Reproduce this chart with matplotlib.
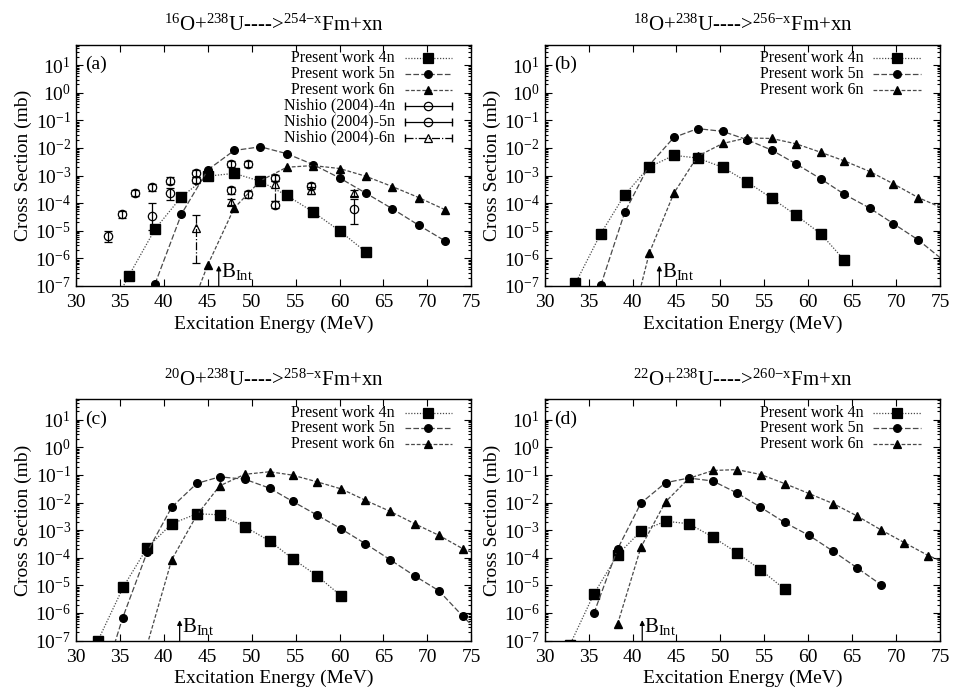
import matplotlib
matplotlib.use('Agg')
import matplotlib.pyplot as plt
from matplotlib.ticker import LogLocator, LogFormatterMathtext, MultipleLocator, NullFormatter

plt.rcParams['font.family'] = ['Liberation Serif', 'DejaVu Serif']
plt.rcParams['mathtext.fontset'] = 'custom'
plt.rcParams['mathtext.rm'] = 'Liberation Serif'
plt.rcParams['mathtext.it'] = 'Liberation Serif:italic'
plt.rcParams['mathtext.bf'] = 'Liberation Serif:bold'

# ---- panel (a): 16O + 238U ----
a_4n_E = [33, 36, 39, 42, 45, 48, 51, 54, 57, 60, 63]
a_4n_s = [3.6e-9, 2.3e-7, 1.15e-5, 1.7e-4, 9.5e-4, 1.2e-3, 6.2e-4, 1.9e-4, 4.8e-5, 1.0e-5, 1.7e-6]
a_5n_E = [39, 42, 45, 48, 51, 54, 57, 60, 63, 66, 69, 72]
a_5n_s = [1.2e-7, 4.0e-5, 1.6e-3, 8.1e-3, 1.1e-2, 6.2e-3, 2.5e-3, 8.2e-4, 2.3e-4, 6.3e-5, 1.6e-5, 4.3e-6]
a_6n_E = [42, 45, 48, 51, 54, 57, 60, 63, 66, 69, 72]
a_6n_s = [2e-9, 5.8e-7, 6.6e-5, 6.5e-4, 2.0e-3, 2.3e-3, 1.8e-3, 9.4e-4, 4.0e-4, 1.6e-4, 5.8e-5]

nishio4n_E = [33.6, 35.2, 36.7, 38.7, 40.7, 43.7, 47.6, 49.6, 52.6]
nishio4n_s = [6.6e-6, 4.0e-5, 2.3e-4, 3.7e-4, 6.5e-4, 1.2e-3, 2.9e-4, 2.1e-4, 8.7e-5]
nishio4n_lo = [3.9e-6, 3.0e-5, 1.75e-4, 2.8e-4, 5.0e-4, 9.0e-4, 2.2e-4, 1.6e-4, 6.5e-5]
nishio4n_hi = [1.0e-5, 5.3e-5, 3.0e-4, 4.8e-4, 8.5e-4, 1.55e-3, 3.8e-4, 2.8e-4, 1.15e-4]

nishio5n_E = [38.7, 40.65, 43.7, 47.6, 49.6, 52.6, 56.7, 61.7]
nishio5n_s = [3.5e-5, 2.3e-4, 7.0e-4, 2.6e-3, 2.7e-3, 8.1e-4, 4.3e-4, 6.3e-5]
nishio5n_lo = [1.1e-5, 1.3e-4, 5.3e-4, 2.0e-3, 2.1e-3, 6.2e-4, 3.3e-4, 1.8e-5]
nishio5n_hi = [1.0e-4, 3.5e-4, 9.2e-4, 3.4e-3, 3.5e-3, 1.05e-3, 5.6e-4, 1.4e-4]

nishio6n_E = [43.7, 47.6, 52.6, 56.7, 61.7]
nishio6n_s = [1.26e-5, 1.1e-4, 5.0e-4, 2.9e-4, 2.3e-4]
nishio6n_lo = [6.6e-7, 8.3e-5, 1.2e-4, 2.2e-4, 1.75e-4]
nishio6n_hi = [3.8e-5, 1.45e-4, 6.5e-4, 3.8e-4, 3.0e-4]

# ---- panel (b): 18O + 238U ----
b_4n_E = [33.5, 36.35, 39.1, 41.85, 44.7, 47.4, 50.25, 53.0, 55.85, 58.65, 61.45, 64.1]
b_4n_s = [1.25e-7, 7.6e-6, 2.0e-4, 2.0e-3, 5.4e-3, 4.3e-3, 2.0e-3, 6.0e-4, 1.5e-4, 3.6e-5, 7.6e-6, 8.7e-7]
b_5n_E = [36.4, 39.1, 41.85, 44.7, 47.4, 50.25, 53.0, 55.85, 58.65, 61.45, 64.1, 67.0, 69.7, 72.5, 75.3]
b_5n_s = [1.1e-7, 4.6e-5, 2.3e-3, 2.4e-2, 5.0e-2, 4.0e-2, 2.0e-2, 8.3e-3, 2.6e-3, 7.5e-4, 2.1e-4,
          6.6e-5, 1.8e-5, 4.7e-6, 8.9e-7]
b_6n_E = [39.1, 41.9, 44.7, 47.4, 50.25, 53.0, 55.85, 58.65, 61.45, 64.1, 67.0, 69.7, 72.5, 75.3]
b_6n_s = [4.4e-10, 1.55e-6, 2.3e-4, 5.0e-3, 1.45e-2, 2.3e-2, 2.2e-2, 1.4e-2, 6.9e-3, 3.4e-3, 1.4e-3,
          5.0e-4, 1.6e-4, 6.6e-5]

# ---- panel (c): 20O + 238U ----
c_4n_E = [32.5, 35.4, 38.1, 40.9, 43.75, 46.35, 49.2, 52.05, 54.65, 57.45, 60.2]
c_4n_s = [1.0e-7, 8.9e-6, 2.3e-4, 1.7e-3, 3.9e-3, 3.6e-3, 1.35e-3, 4.0e-4, 9.3e-5, 2.2e-5, 4.1e-6]
c_5n_E = [32.5, 35.3, 38.1, 40.9, 43.75, 46.35, 49.2, 52.05, 54.65, 57.45, 60.2, 62.95, 65.75,
          68.55, 71.3, 74.05, 76.8]
c_5n_s = [9e-10, 6.5e-7, 1.6e-4, 6.8e-3, 4.9e-2, 8.5e-2, 7.0e-2, 3.3e-2, 1.1e-2, 3.5e-3, 1.1e-3,
          3.2e-4, 8.5e-5, 2.2e-5, 6.4e-6, 7.5e-7, 1.0e-7]
c_6n_E = [38.1, 40.9, 43.75, 46.35, 49.2, 52.05, 54.65, 57.45, 60.2, 62.95, 65.75, 68.55, 71.3,
          74.05, 76.8]
c_6n_s = [7e-8, 8.5e-5, 3.5e-3, 4.0e-2, 1.05e-1, 1.3e-1, 9.8e-2, 5.6e-2, 3.1e-2, 1.2e-2, 4.8e-3,
          1.7e-3, 6.5e-4, 2.1e-4, 9.5e-5]

# ---- panel (d): 22O + 238U ----
d_4n_E = [32.85, 35.6, 38.3, 40.95, 43.75, 46.4, 49.15, 51.9, 54.55, 57.35]
d_4n_s = [6.8e-8, 4.9e-6, 1.3e-4, 9.1e-4, 2.1e-3, 1.7e-3, 5.6e-4, 1.5e-4, 3.7e-5, 7.1e-6]
d_5n_E = [35.6, 38.3, 40.95, 43.75, 46.4, 49.15, 51.9, 54.55, 57.3, 60.1, 62.85, 65.6, 68.25]
d_5n_s = [9.8e-7, 2.1e-4, 9.5e-3, 5.2e-2, 7.7e-2, 6.0e-2, 2.2e-2, 6.8e-3, 1.9e-3, 6.4e-4, 1.7e-4,
          4.2e-5, 1.07e-5]
d_6n_E = [38.3, 40.95, 43.75, 46.4, 49.2, 51.9, 54.6, 57.35, 60.1, 62.85, 65.6, 68.25, 70.95,
          73.65, 76.4]
d_6n_s = [4.0e-7, 2.4e-4, 1.05e-2, 7.5e-2, 1.45e-1, 1.55e-1, 1.03e-1, 4.8e-2, 2.1e-2, 9.1e-3,
          3.2e-3, 1.03e-3, 3.5e-4, 1.2e-4, 5.2e-5]

titles = [r'$^{16}$O+$^{238}$U---->$^{254\mathrm{-x}}$Fm+xn',
          r'$^{18}$O+$^{238}$U---->$^{256\mathrm{-x}}$Fm+xn',
          r'$^{20}$O+$^{238}$U---->$^{258\mathrm{-x}}$Fm+xn',
          r'$^{22}$O+$^{238}$U---->$^{260\mathrm{-x}}$Fm+xn']
tags = ['(a)', '(b)', '(c)', '(d)']
b_int = [46.25, 43.05, 41.8, 41.1]

LINE_C = '#4a4a4a'
styles = {
    '4n': dict(marker='s', ms=7.5, ls=(0, (1, 1.3))),
    '5n': dict(marker='o', ms=5.5, ls=(0, (4.5, 1.8))),
    '6n': dict(marker='^', ms=5.5, ls=(0, (3, 1.5))),
}


def legend_row(ax, i, label, marker, ms, ls, open_marker=False, caps=False, color=LINE_C):
    y = 0.945 - 0.066 * i
    ax.text(0.806, y, label, transform=ax.transAxes, ha='right', va='center', fontsize=11.5)
    ax.plot([0.831, 0.952], [y, y], transform=ax.transAxes, color=color, lw=0.9, ls=ls,
            clip_on=False)
    if caps:
        ax.plot([0.831, 0.952], [y, y], transform=ax.transAxes, ls='none', marker='|',
                ms=6, mew=1.0, color='k', clip_on=False)
    ax.plot([0.8915], [y], transform=ax.transAxes, marker=marker, ms=ms, color='k',
            mfc='none' if open_marker else 'k', mew=0.9, clip_on=False)


def draw_present(ax, E, s, key):
    st = styles[key]
    ax.plot(E, s, color=LINE_C, lw=0.9, ls=st['ls'])
    ax.plot(E, s, ls='none', marker=st['marker'], ms=st['ms'], color='k')


def draw_nishio(ax, E, s, lo, hi, marker, ls):
    err = [[v - l for v, l in zip(s, lo)], [h - v for v, h in zip(s, hi)]]
    res = ax.errorbar(E, s, yerr=err, fmt=marker, ms=6, mfc='none', mec='k', mew=0.9,
                      ecolor='k', elinewidth=0.9, capsize=3, capthick=0.9)
    res[2][0].set_linestyle(ls)


fig = plt.figure(figsize=(9.56, 6.97), dpi=100)
lefts = [0.0795, 0.5698]
bottoms = [0.5897, 0.081]
axes = []
for r in range(2):
    for c in range(2):
        axes.append(fig.add_axes([lefts[c], bottoms[r], 0.4135, 0.3462]))

present = [
    [(a_4n_E, a_4n_s), (a_5n_E, a_5n_s), (a_6n_E, a_6n_s)],
    [(b_4n_E, b_4n_s), (b_5n_E, b_5n_s), (b_6n_E, b_6n_s)],
    [(c_4n_E, c_4n_s), (c_5n_E, c_5n_s), (c_6n_E, c_6n_s)],
    [(d_4n_E, d_4n_s), (d_5n_E, d_5n_s), (d_6n_E, d_6n_s)],
]

for k, ax in enumerate(axes):
    for (E, s), key in zip(present[k], ['4n', '5n', '6n']):
        draw_present(ax, E, s, key)
    for i, key in enumerate(['4n', '5n', '6n']):
        st = styles[key]
        legend_row(ax, i, 'Present work ' + key, st['marker'], st['ms'], st['ls'])

    if k == 0:
        draw_nishio(ax, nishio4n_E, nishio4n_s, nishio4n_lo, nishio4n_hi, 'o', '-')
        draw_nishio(ax, nishio5n_E, nishio5n_s, nishio5n_lo, nishio5n_hi, 'o', '-')
        draw_nishio(ax, nishio6n_E, nishio6n_s, nishio6n_lo, nishio6n_hi, '^', '-.')
        legend_row(ax, 3, 'Nishio (2004)-4n', 'o', 6, '-', True, True, 'k')
        legend_row(ax, 4, 'Nishio (2004)-5n', 'o', 6, '-', True, True, 'k')
        legend_row(ax, 5, 'Nishio (2004)-6n', '^', 6, '-.', True, True, 'k')

    # B_Int marker
    ax.annotate('', xy=(b_int[k], 5.5e-7), xytext=(b_int[k], 1e-7),
                arrowprops=dict(arrowstyle='-|>', color='k', lw=0.9,
                                mutation_scale=7, shrinkA=0, shrinkB=0))
    ax.text(b_int[k] + 0.25, 2.1e-7, r'B$_{\rm Int}$', fontsize=15, ha='left', va='baseline')

    ax.text(0.023, 0.917, tags[k], transform=ax.transAxes, fontsize=14, ha='left', va='center')

    ax.set_yscale('log')
    ax.set_xlim(30, 75)
    ax.set_ylim(1e-7, 55)
    ax.xaxis.set_major_locator(MultipleLocator(5))
    ax.yaxis.set_major_locator(LogLocator(base=10, numticks=20))
    ax.yaxis.set_minor_locator(LogLocator(base=10, subs=range(2, 10), numticks=20))
    ax.yaxis.set_major_formatter(LogFormatterMathtext())
    ax.yaxis.set_minor_formatter(NullFormatter())
    ax.tick_params(which='both', direction='in', top=True, right=True, labelsize=14, width=0.8)
    ax.tick_params(which='major', length=5)
    ax.tick_params(which='minor', length=2.5)
    ax.tick_params(axis='x', pad=6)
    for sp in ax.spines.values():
        sp.set_linewidth(1.0)
    ax.set_xlabel('Excitation Energy (MeV)', fontsize=14, labelpad=3)
    ax.set_ylabel('Cross Section (mb)', fontsize=14, labelpad=2)
    ax.set_title(titles[k], fontsize=15, pad=10)

fig.savefig('out.png', dpi=100)
